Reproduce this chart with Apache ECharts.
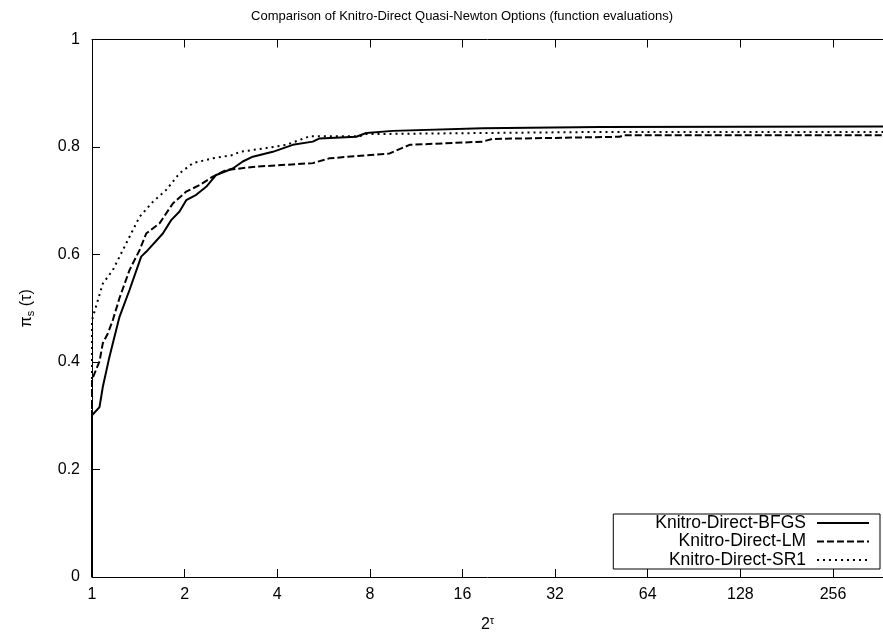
<!DOCTYPE html>
<html>
<head>
<meta charset="utf-8">
<script src="https://cdn.jsdelivr.net/npm/echarts@6/dist/echarts.min.js"></script>
<style>
  html, body { margin: 0; padding: 0; background: #fff; }
  #chart { width: 883px; height: 632px; }
</style>
</head>
<body>
<div id="chart"></div>
<script>
// x values are tau (axis shows 2^tau), y values are pi_s(tau)
var seriesNames = ['Knitro-Direct-BFGS', 'Knitro-Direct-LM', 'Knitro-Direct-SR1'];
var xTickLabels = [1, 2, 4, 8, 16, 32, 64, 128, 256];
var yTickLabels = [0, 0.2, 0.4, 0.6, 0.8, 1];

var bfgsTau = [0, 0, 0.081, 0.117, 0.181, 0.225, 0.297, 0.405, 0.531, 0.585, 0.765, 0.855, 0.945, 1.017, 1.125, 1.233, 1.341, 1.520, 1.628, 1.736, 1.952, 2.168, 2.384, 2.457, 2.853, 2.961, 3.248, 4.217, 5.480, 8.54];
var bfgsVal = [0, 0.301, 0.316, 0.354, 0.404, 0.435, 0.484, 0.534, 0.596, 0.605, 0.639, 0.664, 0.680, 0.701, 0.711, 0.726, 0.748, 0.760, 0.773, 0.782, 0.791, 0.804, 0.810, 0.816, 0.819, 0.826, 0.830, 0.835, 0.837, 0.838];

var lmTau = [0, 0, 0.081, 0.117, 0.171, 0.225, 0.297, 0.405, 0.513, 0.585, 0.729, 0.873, 1.017, 1.161, 1.305, 1.449, 1.736, 2.384, 2.565, 3.213, 3.429, 4.217, 4.325, 5.696, 5.750, 8.54];
var lmVal = [0, 0.367, 0.401, 0.435, 0.453, 0.478, 0.519, 0.571, 0.608, 0.639, 0.658, 0.695, 0.717, 0.729, 0.745, 0.757, 0.763, 0.770, 0.779, 0.788, 0.804, 0.810, 0.815, 0.819, 0.822, 0.822];

var sr1Tau = [0, 0, 0.117, 0.225, 0.405, 0.513, 0.657, 0.801, 0.945, 1.089, 1.305, 1.520, 1.593, 1.881, 2.097, 2.241, 2.349, 2.889, 2.961, 5.480, 8.54];
var sr1Val = [0, 0.478, 0.546, 0.571, 0.633, 0.670, 0.698, 0.720, 0.751, 0.770, 0.779, 0.785, 0.791, 0.798, 0.804, 0.813, 0.820, 0.820, 0.824, 0.828, 0.828];

function pairs(xs, ys) {
    var out = [];
    for (var i = 0; i < xs.length; i++) out.push([xs[i], ys[i]]);
    return out;
}

var myChart = echarts.init(document.getElementById('chart'));
var font = 'Liberation Sans, Arial, Helvetica, sans-serif';

var option = {
    animation: false,
    backgroundColor: '#fff',
    title: {
        text: 'Comparison of Knitro-Direct Quasi-Newton Options (function evaluations)',
        left: 457,
        top: 5,
        textAlign: 'center',
        textStyle: { fontFamily: font, fontSize: 13, fontWeight: 'normal', color: '#000' }
    },
    legend: {
        orient: 'vertical',
        align: 'right',
        right: 3,
        bottom: 63,
        padding: [0, 10, 0, 42],
        itemGap: 0.5,
        itemWidth: 52,
        itemHeight: 14,
        borderColor: '#000',
        borderWidth: 1,
        borderRadius: 0,
        backgroundColor: '#fff',
        itemStyle: { opacity: 0 },
        data: seriesNames,
        textStyle: { fontFamily: font, fontSize: 17.5, color: '#000', padding: [0, 6, 0, 0] }
    },
    grid: { left: 92, right: 0, top: 39.5, bottom: 55, outerBoundsMode: 'none', containLabel: false },
    xAxis: [{
        type: 'value',
        min: 0,
        max: 8.54,
        interval: 1,
        name: '2{sup|τ}',
        nameLocation: 'middle',
        nameGap: 38,
        nameTextStyle: {
            fontFamily: font, fontSize: 16, color: '#000',
            rich: { sup: { fontFamily: font, fontSize: 11, verticalAlign: 'top', padding: [0, 0, 9, 0] } }
        },
        axisLine: { show: true, lineStyle: { color: '#000', width: 1 } },
        axisTick: { inside: true, length: 8, lineStyle: { color: '#000' } },
        axisLabel: {
            fontFamily: font, fontSize: 16, color: '#000', margin: 10,
            showMaxLabel: false,
            formatter: function (v) {
                var k = Math.round(v);
                return xTickLabels[k] != null ? String(xTickLabels[k]) : '';
            }
        },
        splitLine: { show: false }
    }, {
        type: 'value',
        position: 'top',
        min: 0,
        max: 8.54,
        interval: 1,
        axisLine: { show: true, lineStyle: { color: '#000', width: 1 } },
        axisTick: { inside: true, length: 8, lineStyle: { color: '#000' } },
        axisLabel: { show: false },
        splitLine: { show: false }
    }],
    yAxis: {
        type: 'value',
        min: 0,
        max: 1,
        interval: 0.2,
        name: 'π{sub|s} (τ)',
        nameLocation: 'middle',
        nameGap: 56,
        nameRotate: 90,
        nameTextStyle: {
            fontFamily: font, fontSize: 16, color: '#000',
            rich: { sub: { fontFamily: font, fontSize: 11, verticalAlign: 'bottom', padding: [8, 0, 0, 0] } }
        },
        axisLine: { show: true, lineStyle: { color: '#000', width: 1 } },
        axisTick: { inside: true, length: 8, lineStyle: { color: '#000' } },
        axisLabel: {
            fontFamily: font, fontSize: 16, color: '#000', margin: 12,
            formatter: function (v) {
                var k = Math.round(v / 0.2);
                return String(yTickLabels[k]);
            }
        },
        splitLine: { show: false }
    },
    series: [{
        name: seriesNames[0],
        type: 'line',
        symbol: 'none',
        data: pairs(bfgsTau, bfgsVal),
        lineStyle: { color: '#000', width: 2, type: 'solid' },
        itemStyle: { color: '#000' },
        z: 3
    }, {
        name: seriesNames[1],
        type: 'line',
        symbol: 'none',
        data: pairs(lmTau, lmVal),
        lineStyle: { color: '#000', width: 2, type: [7, 3] },
        itemStyle: { color: '#000' },
        z: 2
    }, {
        name: seriesNames[2],
        type: 'line',
        symbol: 'none',
        data: pairs(sr1Tau, sr1Val),
        lineStyle: { color: '#000', width: 2, type: [2, 4] },
        itemStyle: { color: '#000' },
        z: 2
    }]
};

myChart.setOption(option);
</script>
</body>
</html>
